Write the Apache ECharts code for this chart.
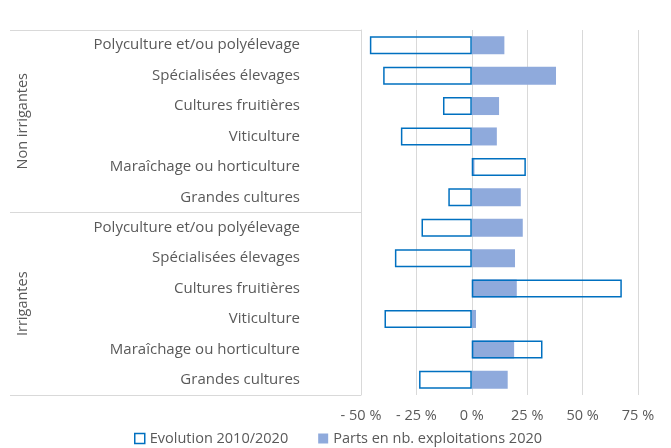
<!DOCTYPE html>
<html>
<head>
<meta charset="utf-8">
<script src="https://cdn.jsdelivr.net/npm/echarts@6/dist/echarts.min.js"></script>
<style>
html,body{margin:0;padding:0;background:#fff;}
#main{width:671px;height:448px;}
</style>
</head>
<body>
<div id="main"></div>
<script>
// categories, top to bottom
var types = ['Polyculture et/ou polyélevage','Spécialisées élevages','Cultures fruitières','Viticulture','Maraîchage ou horticulture','Grandes cultures',
             'Polyculture et/ou polyélevage','Spécialisées élevages','Cultures fruitières','Viticulture','Maraîchage ou horticulture','Grandes cultures'];
var groups = ['Non irrigantes','Irrigantes'];
// values in %
var evolution = [-46, -40, -13, -32, 24.4, -10.6, -22.7, -34.7, 67.7, -39.4, 31.9, -23.8];
var parts = [14.7, 38, 12.3, 11.3, 1.2, 22.1, 23, 19.5, 20.3, 1.9, 19.1, 16.2];

var chart = echarts.init(document.getElementById('main'));
var grey = '#595959';
var lineGrey = '#d9d9d9';
var font = 'Open Sans';
var fs = 14.5;

option = {
	animation: false,
	textStyle: {fontFamily: font},
	grid: {
		left: 361,
		right: 33,
		top: 30,
		bottom: 53
	},
	legend: {
		left: 134,
		top: 431,
		padding: 0,
		itemWidth: 10,
		itemHeight: 10,
		itemGap: 30,
		icon: 'rect',
		textStyle: {color: grey, fontSize: fs, fontFamily: font},
		data: [
			{name: 'Evolution 2010/2020', itemStyle: {color: 'rgba(0,0,0,0)', borderColor: '#0070c0', borderWidth: 1.5}},
			{name: 'Parts en nb. exploitations 2020', itemStyle: {color: '#8faadc'}}
		]
	},
	xAxis: {
		type: 'value',
		min: -50,
		max: 75,
		interval: 25,
		axisLine: {show: false},
		axisTick: {show: false},
		splitLine: {lineStyle: {color: lineGrey, width: 1}},
		axisLabel: {
			color: grey,
			fontSize: fs,
			margin: 13,
			formatter: function (v) {
				return (v < 0 ? '- ' + Math.abs(v) : v) + ' %';
			}
		}
	},
	yAxis: [
		{
			type: 'category',
			inverse: true,
			data: types,
			axisLine: {show: true, onZero: false, lineStyle: {color: lineGrey}},
			axisTick: {show: false},
			axisLabel: {color: grey, fontSize: 15, margin: 61}
		},
		{
			// groupes : lignes du tableau + libellés verticaux
			type: 'category',
			inverse: true,
			position: 'left',
			data: groups,
			axisLine: {show: false, onZero: false},
			axisTick: {show: true, length: 351, lineStyle: {color: lineGrey}},
			axisLabel: {rotate: 90, margin: 331, color: grey, fontSize: fs}
		}
	],
	series: [
		{
			name: 'Evolution 2010/2020',
			type: 'bar',
			z: 3,
			data: evolution,
			barWidth: 18,
			barGap: '-100%',
			itemStyle: {color: 'rgba(0,0,0,0)', borderColor: '#0070c0', borderWidth: 1.5}
		},
		{
			name: 'Parts en nb. exploitations 2020',
			type: 'bar',
			z: 2,
			data: parts,
			barWidth: 18,
			barGap: '-100%',
			itemStyle: {color: '#8faadc'}
		}
	]
};
chart.setOption(option);
</script>
</body>
</html>
